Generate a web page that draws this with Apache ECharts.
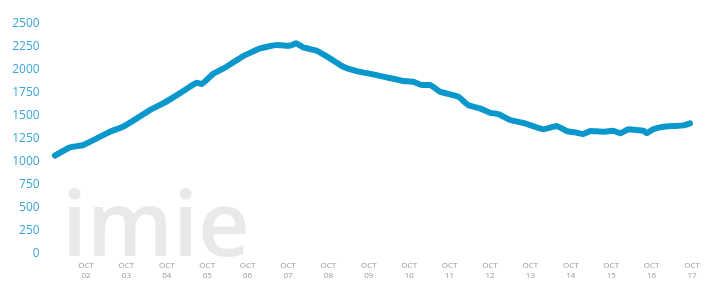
<!DOCTYPE html>
<html>
<head>
<meta charset="utf-8">
<script src="https://cdn.jsdelivr.net/npm/echarts@6/dist/echarts.min.js"></script>
<style>
  html, body { margin: 0; padding: 0; background: #fff; }
  #chart { width: 710px; height: 283px; }
</style>
</head>
<body>
<div id="chart"></div>
<script>
// day number (OCT 02 = 2) and visitors
const days = [1.23, 1.6, 1.93, 2.27, 2.59, 2.92, 3.26, 3.58, 3.91, 4.25, 4.57, 4.74, 4.86,
  5.15, 5.48, 5.89, 6.31, 6.72, 7.05, 7.2, 7.38, 7.71, 8.04, 8.37, 8.7, 9.11, 9.44,
  9.85, 10.1, 10.31, 10.52, 10.76, 11.01, 11.22, 11.46, 11.75, 12.0, 12.21, 12.5,
  12.79, 12.99, 13.32, 13.65, 13.9, 14.15, 14.31, 14.48, 14.81, 15.05, 15.22, 15.43,
  15.8, 15.88, 16.04, 16.29, 16.54, 16.79, 16.95];
const visits = [1065, 1155, 1180, 1253, 1326, 1380, 1471, 1562, 1635, 1725, 1816, 1860, 1845,
  1958, 2034, 2150, 2234, 2270, 2263, 2289, 2245, 2208, 2125, 2034, 1987, 1951, 1918,
  1878, 1870, 1834, 1834, 1761, 1733, 1707, 1616, 1580, 1532, 1518, 1453,
  1424, 1398, 1352, 1388, 1333, 1315, 1300, 1333, 1326, 1336, 1308, 1352,
  1336, 1308, 1352, 1380, 1388, 1395, 1417];
const yTicks = [0, 250, 500, 750, 1000, 1250, 1500, 1750, 2000, 2250, 2500];

const chart = echarts.init(document.getElementById('chart'));

const option = {
  animation: false,
  grid: { left: 45.6, right: 18, top: 24, bottom: 29.7 },
  graphic: [{
    type: 'text',
    left: 62,
    top: 185,
    z: -10,
    silent: true,
    style: {
      text: 'imie',
      fill: '#e9e9e9',
      font: '600 90px "Open Sans"'
    }
  }],
  xAxis: {
    type: 'value',
    min: 1,
    max: 17,
    interval: 1,
    axisLine: { show: false },
    axisTick: { show: false },
    splitLine: { show: false },
    axisLabel: {
      margin: 7,
      color: '#999999',
      fontFamily: 'Open Sans',
      fontSize: 8,
      lineHeight: 10,
      formatter: function (v) {
        if (v < 2) return '';
        return 'OCT\n' + String(v).padStart(2, '0');
      }
    }
  },
  yAxis: {
    type: 'value',
    min: yTicks[0],
    max: yTicks[yTicks.length - 1],
    interval: 250,
    axisLine: { show: false },
    axisTick: { show: false },
    splitLine: { show: false },
    axisLabel: {
      margin: 6,
      color: '#3ca6dc',
      fontFamily: 'Open Sans',
      fontSize: 12,
      formatter: v => String(v)
    }
  },
  series: [{
    type: 'line',
    data: days.map((d, i) => [d, visits[i]]),
    showSymbol: false,
    smooth: 0.1,
    z: 5,
    lineStyle: { color: '#0a98cc', width: 6, cap: 'round', join: 'round' }
  }]
};

chart.setOption(option);
window.addEventListener('resize', () => chart.resize());
</script>
</body>
</html>
